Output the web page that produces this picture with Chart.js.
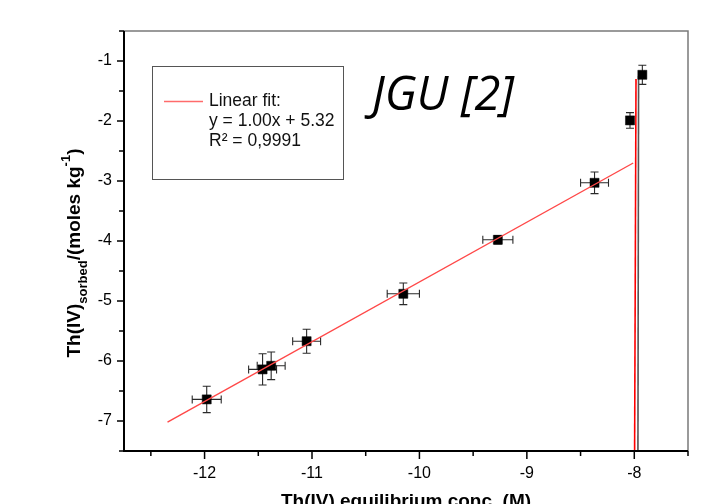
<!DOCTYPE html>
<html>
<head>
<meta charset="utf-8">
<script src="https://cdn.jsdelivr.net/npm/chart.js@4.4.1/dist/chart.umd.min.js"></script>
<style>
  html, body { margin: 0; padding: 0; background: #fff; }
  #wrap { width: 713px; height: 504px; }
</style>
</head>
<body>
<div id="wrap"><canvas id="chart" width="713" height="504"></canvas></div>
<script>
// Data
const xVals = [-11.98, -11.46, -11.38, -11.05, -10.15, -9.27, -8.37, -8.04, -7.925];
const yVals = [-6.64, -6.14, -6.08, -5.67, -4.88, -3.98, -3.03, -1.99, -1.23];
const xErr = [0.135, 0.13, 0.13, 0.13, 0.15, 0.14, 0.13, 0.02, 0.02];
const yErr = [0.22, 0.26, 0.23, 0.2, 0.18, 0.07, 0.18, 0.13, 0.16];

// Linear fit segment and the two near-vertical lines at the right
const fitX = [-12.345, -8.01];
const fitY = [-7.02, -2.7];
const redVertX = [-7.984, -7.997];
const redVertY = [-1.3, -7.5];
const grayVertX = [-7.96, -7.966];
const grayVertY = [-1.25, -7.5];

// Axes
const xTicks = [-12, -11, -10, -9, -8];
const xMinor = [-12.5, -11.5, -10.5, -9.5, -8.5, -7.5];
const yTicks = [-7, -6, -5, -4, -3, -2, -1];
const yMinor = [-7.5, -6.5, -5.5, -4.5, -3.5, -2.5, -1.5, -0.5];

const legendLines = ["Linear fit:", "y = 1.00x + 5.32", "R\u00b2 = 0,9991"];
const panelLabel = "JGU [2]";

const toPoints = (xs, ys) => xs.map((x, i) => ({ x, y: ys[i] }));

// Error bars under the markers
const errorBars = {
  id: "errorBars",
  beforeDatasetsDraw(chart) {
    const { ctx, scales: { x, y } } = chart;
    ctx.save();
    ctx.strokeStyle = "#2a2a2a";
    ctx.lineWidth = 1.1;
    const cap = 4;
    xVals.forEach((xv, i) => {
      const px = x.getPixelForValue(xv);
      const py = y.getPixelForValue(yVals[i]);
      const xl = x.getPixelForValue(xv - xErr[i]);
      const xr = x.getPixelForValue(xv + xErr[i]);
      const yt = y.getPixelForValue(yVals[i] + yErr[i]);
      const yb = y.getPixelForValue(yVals[i] - yErr[i]);
      ctx.beginPath();
      ctx.moveTo(xl, py); ctx.lineTo(xr, py);
      ctx.moveTo(xl, py - cap); ctx.lineTo(xl, py + cap);
      ctx.moveTo(xr, py - cap); ctx.lineTo(xr, py + cap);
      ctx.moveTo(px, yt); ctx.lineTo(px, yb);
      ctx.moveTo(px - cap, yt); ctx.lineTo(px + cap, yt);
      ctx.moveTo(px - cap, yb); ctx.lineTo(px + cap, yb);
      ctx.stroke();
    });
    ctx.restore();
  },
};

// Frame, ticks, axis titles, legend box and panel label
const decorations = {
  id: "decorations",
  afterDraw(chart) {
    const { ctx, chartArea: a, scales: { x, y } } = chart;
    ctx.save();

    // top / right border
    ctx.strokeStyle = "#7a7a7a";
    ctx.lineWidth = 1.5;
    ctx.beginPath();
    ctx.moveTo(a.left, a.top); ctx.lineTo(a.right, a.top); ctx.lineTo(a.right, a.bottom);
    ctx.stroke();

    // left / bottom axes
    ctx.strokeStyle = "#000";
    ctx.lineWidth = 2;
    ctx.beginPath();
    ctx.moveTo(a.left, a.top); ctx.lineTo(a.left, a.bottom); ctx.lineTo(a.right, a.bottom);
    ctx.stroke();

    // ticks (outward)
    ctx.lineWidth = 1.5;
    ctx.beginPath();
    xTicks.forEach((v) => { const p = x.getPixelForValue(v); ctx.moveTo(p, a.bottom); ctx.lineTo(p, a.bottom + 8); });
    xMinor.forEach((v) => { const p = x.getPixelForValue(v); ctx.moveTo(p, a.bottom); ctx.lineTo(p, a.bottom + 5); });
    yTicks.forEach((v) => { const p = y.getPixelForValue(v); ctx.moveTo(a.left, p); ctx.lineTo(a.left - 7, p); });
    yMinor.forEach((v) => { const p = y.getPixelForValue(v); ctx.moveTo(a.left, p); ctx.lineTo(a.left - 5, p); });
    ctx.stroke();

    // x title
    ctx.fillStyle = "#000";
    ctx.font = "bold 19px 'Liberation Sans', Arial, sans-serif";
    ctx.textAlign = "center";
    ctx.textBaseline = "alphabetic";
    ctx.fillText("Th(IV) equilibrium conc. (M)", 406, 507);

    // y title with sub/superscript
    const parts = [
      { t: "Th(IV)", f: "bold 19px 'Liberation Sans', Arial, sans-serif", dy: 0 },
      { t: "sorbed", f: "bold 13px 'Liberation Sans', Arial, sans-serif", dy: 7 },
      { t: "/(moles kg", f: "bold 19px 'Liberation Sans', Arial, sans-serif", dy: 0 },
      { t: "-1", f: "bold 13px 'Liberation Sans', Arial, sans-serif", dy: -10 },
      { t: ")", f: "bold 19px 'Liberation Sans', Arial, sans-serif", dy: 0 },
    ];
    let total = 0;
    parts.forEach((p) => { ctx.font = p.f; p.w = ctx.measureText(p.t).width; total += p.w; });
    ctx.save();
    ctx.translate(80, 253);
    ctx.rotate(-Math.PI / 2);
    ctx.textAlign = "left";
    let cx = -total / 2;
    parts.forEach((p) => { ctx.font = p.f; ctx.fillText(p.t, cx, p.dy); cx += p.w; });
    ctx.restore();

    // legend box
    ctx.strokeStyle = "#555";
    ctx.lineWidth = 1;
    ctx.strokeRect(152.5, 66.5, 191, 113);
    ctx.strokeStyle = "#ff6b6b";
    ctx.lineWidth = 1.3;
    ctx.beginPath();
    ctx.moveTo(164, 101.5); ctx.lineTo(203, 101.5);
    ctx.stroke();
    ctx.fillStyle = "#111";
    ctx.font = "17.5px 'Liberation Sans', Arial, sans-serif";
    ctx.textAlign = "left";
    ctx.textBaseline = "middle";
    legendLines.forEach((s, i) => ctx.fillText(s, 209, 101.5 + i * 19.7));

    // panel label
    ctx.font = "italic 47px 'Open Sans', 'Noto Sans', sans-serif";
    ctx.textAlign = "center";
    ctx.textBaseline = "alphabetic";
    ctx.fillStyle = "#000";
    ctx.fillText(panelLabel, 443, 110);

    ctx.restore();
  },
};

new Chart(document.getElementById("chart"), {
  type: "scatter",
  data: {
    datasets: [
      {
        label: "Linear fit",
        data: toPoints(fitX, fitY),
        showLine: true,
        borderColor: "#ff4848",
        borderWidth: 1.4,
        pointRadius: 0,
      },
      {
        label: "Data",
        data: toPoints(xVals, yVals),
        pointStyle: "rect",
        pointRadius: 6.4,
        backgroundColor: "#000",
        borderColor: "#000",
        borderWidth: 0.5,
      },
      {
        label: "red vertical",
        data: toPoints(redVertX, redVertY),
        showLine: true,
        borderColor: "#ff0000",
        borderWidth: 1.6,
        pointRadius: 0,
      },
      {
        label: "gray vertical",
        data: toPoints(grayVertX, grayVertY),
        showLine: true,
        borderColor: "#555",
        borderWidth: 1.6,
        pointRadius: 0,
      },
    ],
  },
  options: {
    responsive: false,
    animation: false,
    devicePixelRatio: 1,
    layout: { padding: { top: 31, right: 25, left: 0, bottom: 0 } },
    plugins: { legend: { display: false }, tooltip: { enabled: false } },
    scales: {
      x: {
        type: "linear",
        min: -12.75,
        max: -7.5,
        afterBuildTicks: (s) => { s.ticks = xTicks.map((v) => ({ value: v })); },
        afterFit: (s) => { s.height = 53; },
        grid: { display: false, drawTicks: false },
        border: { display: false },
        ticks: {
          padding: 13,
          color: "#000",
          font: { family: "'Liberation Sans', Arial, sans-serif", size: 16 },
        },
      },
      y: {
        type: "linear",
        min: -7.5,
        max: -0.5,
        afterBuildTicks: (s) => { s.ticks = yTicks.map((v) => ({ value: v })); },
        afterFit: (s) => { s.width = 124; },
        grid: { display: false, drawTicks: false },
        border: { display: false },
        ticks: {
          padding: 12,
          color: "#000",
          font: { family: "'Liberation Sans', Arial, sans-serif", size: 16 },
        },
      },
    },
  },
  plugins: [errorBars, decorations],
});
</script>
</body>
</html>
